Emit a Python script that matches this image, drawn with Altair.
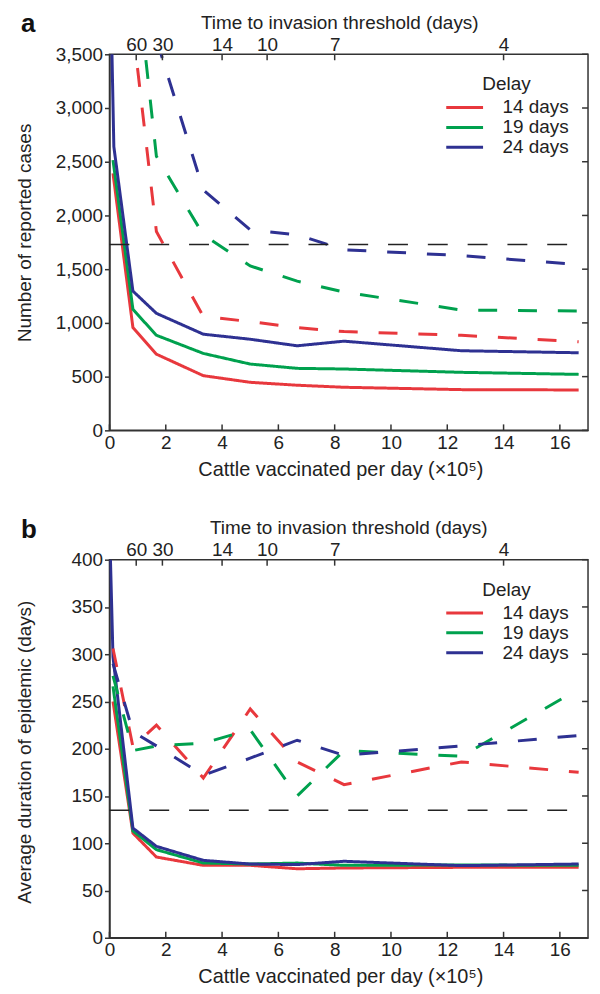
import altair as alt
import pandas as pd

FONT = "Liberation Sans"
FS = 19
AXC = "#333333"
TXT = "#222222"

DELAYS = ["14 days", "19 days", "24 days"]
COLORS = ["#e8383d", "#00a14e", "#2e3192"]
STYLES = ["solid", "dashed"]

# x positions (cattle vaccinated per day, x10^5)
SOLID_X = [0.125, 0.833, 1.667, 3.333, 5.0, 6.667, 8.333, 12.5, 16.667]
DASH_X_A = [0.833, 1.667, 3.333, 5.0, 6.667, 8.333, 12.5, 16.667]
A_SOLID_24_X = [0.0, 0.155, 0.833, 1.667, 3.333, 5.0, 6.667, 8.333, 12.5, 16.667]
B_SOLID_24_X = [0.0, 0.125, 0.833, 1.667, 3.333, 5.0, 6.667, 8.333, 12.5, 16.667]

# panel a: number of reported cases
A_SOLID_14 = [2392, 956, 709, 509, 447, 420, 401, 379, 376]
A_SOLID_19 = [2515, 1126, 885, 716, 617, 577, 571, 540, 521]
A_SOLID_24 = [4650, 2640, 1296, 1089, 895, 848, 787, 830, 741, 722]
A_DASH_14 = [3740, 1850, 1060, 1012, 956, 919, 885, 824]
A_DASH_19 = [4550, 2550, 1820, 1530, 1389, 1287, 1120, 1111]
A_DASH_24 = [4340, 3640, 2237, 1867, 1820, 1681, 1626, 1543]
A_THRESHOLD = 1730

# panel b: average duration of epidemic (days)
B_SOLID_14 = [250, 110.7, 85.4, 76.6, 76.6, 73, 73.8, 74.5, 74.5]
B_SOLID_19 = [266, 113, 93.2, 79.1, 78, 79, 76.6, 77, 76.6]
B_SOLID_24 = [440, 297, 116, 96.7, 81.9, 78, 77.4, 80.9, 76.3, 78]
B_DASH_14 = [306, 202, 225, 169, 242, 186, 162, 186, 175]
B_DASH_19 = [277, 198, 203, 206, 220, 150, 198, 192, 263]
B_DASH_24 = [290, 218, 203, 172, 190, 209, 193, 203, 214]
B_THRESHOLD = 135

THRESH_X = [0.0, 16.5]
X_TICKS = [0, 2, 4, 6, 8, 10, 12, 14, 16]
A_Y_TICKS = [0, 500, 1000, 1500, 2000, 2500, 3000, 3500]
B_Y_TICKS = [0, 50, 100, 150, 200, 250, 300, 350, 400]
TOP_POS = [0.95, 1.88, 4.0, 5.6, 8.0, 14.0]
TOP_LABELS = ["60", "30", "14", "10", "7", "4"]

W = 481


def make_df(series):
    rows = []
    for (delay, style), (xs, ys) in series:
        for x, y in zip(xs, ys):
            rows.append({"x": x, "y": y, "delay": delay, "style": style,
                         "key": delay + " " + style})
    return pd.DataFrame(rows)


def panel(series, y_max, y_ticks, y_title, y_fmt, thr, letter, H, title_shift,
          top_title_x):
    df = make_df(series)
    xscale = alt.Scale(domain=[0, 17], nice=False, zero=False)
    yscale = alt.Scale(domain=[0, y_max], nice=False, zero=False)

    lines = alt.Chart(df).mark_line(clip=True, strokeWidth=3).encode(
        x=alt.X("x:Q", scale=xscale,
                axis=alt.Axis(values=X_TICKS, ticks=False, tickSize=0, labelPadding=3,
                              title="Cattle vaccinated per day (×10⁵)", titlePadding=7,
                              titleFontSize=20, titleX=232, labelFlush=False)),
        y=alt.Y("y:Q", scale=yscale,
                axis=alt.Axis(values=y_ticks, format=y_fmt, title=y_title,
                              tickSize=5, labelPadding=2, titleX=-75,
                              titleY=H / 2 + title_shift, labelFlush=False)),
        color=alt.Color("delay:N", scale=alt.Scale(domain=DELAYS, range=COLORS),
                        legend=alt.Legend(orient="none", legendX=337, legendY=21,
                                          title="Delay", symbolType="stroke",
                                          symbolStrokeWidth=3, symbolSize=1369,
                                          symbolDash=[1, 0],
                                          titleAnchor="middle", padding=0,
                                          rowPadding=0, titlePadding=5,
                                          clipHeight=17, labelOffset=18)),
        strokeDash=alt.StrokeDash("style:N",
                                  scale=alt.Scale(domain=STYLES, range=[[1, 0], [19, 21]]),
                                  legend=None),
        detail="key:N",
    )

    thr_df = pd.DataFrame({"x": [THRESH_X[0]], "x2": [THRESH_X[1]], "y": [thr]})
    rule = alt.Chart(thr_df).mark_rule(strokeDash=[20, 20], strokeWidth=1.5,
                                       color="#222222").encode(
        x=alt.X("x:Q", scale=xscale, axis=None), x2="x2:Q",
        y=alt.Y("y:Q", scale=yscale, axis=None))

    xt = pd.DataFrame({"x": X_TICKS})
    xticks = alt.Chart(xt).mark_rule(color=AXC, strokeWidth=1.5).encode(
        x=alt.X("x:Q", scale=xscale, axis=None),
        y=alt.value(H), y2=alt.value(H - 6))

    yt = pd.DataFrame({"y": y_ticks})
    yticks = alt.Chart(yt).mark_rule(color=AXC, strokeWidth=1.5).encode(
        y=alt.Y("y:Q", scale=yscale, axis=None),
        x=alt.value(W), x2=alt.value(W - 6))

    expr = " : ".join(
        f"abs(datum.value - {p}) < 0.01 ? '{l}'" for p, l in zip(TOP_POS, TOP_LABELS)
    ) + " : ''"
    top_df = pd.DataFrame({"x": TOP_POS, "lab": TOP_LABELS})
    top = alt.Chart(top_df).mark_rule(color=AXC, strokeWidth=1.5).encode(
        x=alt.X("x:Q", scale=xscale,
                axis=alt.Axis(orient="top", values=TOP_POS, labelExpr=expr,
                              ticks=False, tickSize=0, labelPadding=0, domain=False,
                              title="Time to invasion threshold (days)", titlePadding=3,
                              titleX=top_title_x, labelFlush=False)),
        y=alt.value(0), y2=alt.value(6))

    let = alt.Chart(pd.DataFrame({"t": [letter]})).mark_text(
        font=FONT, fontSize=26, fontWeight="bold", align="left",
        baseline="alphabetic", color="#111111").encode(
        text="t:N", x=alt.value(-89), y=alt.value(-22))

    return alt.layer(lines, rule, xticks, yticks, top, let).resolve_scale(
        x="independent", y="independent").properties(width=W, height=H)


series_a = [
    (("14 days", "solid"), (SOLID_X, A_SOLID_14)),
    (("19 days", "solid"), (SOLID_X, A_SOLID_19)),
    (("24 days", "solid"), (A_SOLID_24_X, A_SOLID_24)),
    (("14 days", "dashed"), (DASH_X_A, A_DASH_14)),
    (("19 days", "dashed"), (DASH_X_A, A_DASH_19)),
    (("24 days", "dashed"), (DASH_X_A, A_DASH_24)),
]
series_b = [
    (("14 days", "solid"), (SOLID_X, B_SOLID_14)),
    (("19 days", "solid"), (SOLID_X, B_SOLID_19)),
    (("24 days", "solid"), (B_SOLID_24_X, B_SOLID_24)),
    (("14 days", "dashed"), (SOLID_X, B_DASH_14)),
    (("19 days", "dashed"), (SOLID_X, B_DASH_19)),
    (("24 days", "dashed"), (SOLID_X, B_DASH_24)),
]

pa = panel(series_a, 3500, A_Y_TICKS, "Number of reported cases", ",d",
           A_THRESHOLD, "a", 378, -10, 231)
pb = panel(series_b, 400, B_Y_TICKS, "Average duration of epidemic (days)", "d",
           B_THRESHOLD, "b", 380, 3, 240)

chart = alt.vconcat(pa, pb, spacing=36).resolve_scale(
    color="independent", strokeDash="independent"
).resolve_legend(color="independent").properties(
    padding={"left": 7, "top": 0, "right": 2, "bottom": 0}
).configure(font=FONT).configure_view(
    stroke=AXC, strokeWidth=1.5
).configure_axis(
    labelFont=FONT, titleFont=FONT, labelFontSize=FS, titleFontSize=FS,
    titleFontWeight="normal", labelColor=TXT, titleColor=TXT,
    domainColor=AXC, tickColor=AXC, domainWidth=1.5, tickWidth=1.5, grid=False
).configure_legend(
    labelFont=FONT, titleFont=FONT, labelFontSize=FS, titleFontSize=FS,
    titleFontWeight="normal", labelColor=TXT, titleColor=TXT
)

chart.save("out.html", embed_options={"renderer": "svg", "actions": False})
